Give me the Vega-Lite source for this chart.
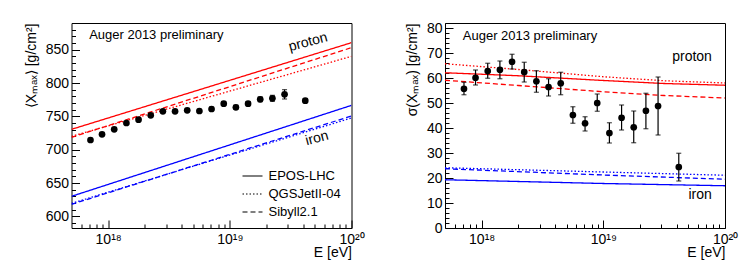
{
  "$schema": "https://vega.github.io/schema/vega-lite/v6.json",
  "padding": {"left": 23.5, "top": 20, "right": 5, "bottom": 5},
  "background": "white",
  "config": {
    "font": "Liberation Sans",
    "view": {"stroke": "black", "strokeWidth": 1},
    "axis": {
      "grid": false,
      "domain": false,
      "tickColor": "black",
      "tickWidth": 1,
      "labelColor": "black",
      "titleColor": "black",
      "labelFontSize": 14,
      "titleFontSize": 14,
      "titleFontWeight": "normal",
      "labelOverlap": false,
      "labelFlush": false
    }
  },
  "datasets": {
    "xmax": [
      {"E": 7.16e17, "v": 714.5, "lo": 712.5, "hi": 716.5},
      {"E": 8.91e17, "v": 723, "lo": 721, "hi": 725},
      {"E": 1.122e18, "v": 730.5, "lo": 728.5, "hi": 732.5},
      {"E": 1.413e18, "v": 740, "lo": 738, "hi": 742},
      {"E": 1.778e18, "v": 745, "lo": 743, "hi": 747},
      {"E": 2.239e18, "v": 751.5, "lo": 749.5, "hi": 753.5},
      {"E": 2.818e18, "v": 757.5, "lo": 755.5, "hi": 759.5},
      {"E": 3.548e18, "v": 757.5, "lo": 755.5, "hi": 759.5},
      {"E": 4.467e18, "v": 759, "lo": 757, "hi": 761},
      {"E": 5.623e18, "v": 758, "lo": 756, "hi": 760},
      {"E": 7.079e18, "v": 761, "lo": 758.5, "hi": 763.5},
      {"E": 8.913e18, "v": 769, "lo": 766.5, "hi": 771.5},
      {"E": 1.122e19, "v": 763.5, "lo": 760.5, "hi": 766.5},
      {"E": 1.413e19, "v": 769, "lo": 766, "hi": 772},
      {"E": 1.778e19, "v": 775.5, "lo": 772, "hi": 779},
      {"E": 2.239e19, "v": 777, "lo": 772.5, "hi": 781.5},
      {"E": 2.818e19, "v": 783, "lo": 776, "hi": 790},
      {"E": 4.17e19, "v": 773.5, "lo": 770.5, "hi": 776.5}
    ],
    "sigma": [
      {"E": 7.16e17, "v": 55.7, "lo": 53.3, "hi": 58.3},
      {"E": 8.91e17, "v": 60.1, "lo": 57.2, "hi": 63.2},
      {"E": 1.122e18, "v": 62.8, "lo": 59.9, "hi": 65.9},
      {"E": 1.413e18, "v": 63.3, "lo": 59.7, "hi": 66.8},
      {"E": 1.778e18, "v": 66.5, "lo": 63.6, "hi": 69.5},
      {"E": 2.239e18, "v": 62.4, "lo": 58.4, "hi": 66.3},
      {"E": 2.818e18, "v": 58.7, "lo": 54.3, "hi": 62.9},
      {"E": 3.548e18, "v": 56.4, "lo": 52.8, "hi": 59.7},
      {"E": 4.467e18, "v": 57.9, "lo": 53.3, "hi": 62.3},
      {"E": 5.623e18, "v": 45.2, "lo": 41.9, "hi": 48.5},
      {"E": 7.079e18, "v": 41.9, "lo": 38.8, "hi": 44.5},
      {"E": 8.913e18, "v": 50.0, "lo": 46.7, "hi": 53.6},
      {"E": 1.122e19, "v": 38.0, "lo": 34.0, "hi": 42.1},
      {"E": 1.413e19, "v": 44.1, "lo": 39.2, "hi": 49.2},
      {"E": 1.778e19, "v": 40.3, "lo": 34.1, "hi": 46.8},
      {"E": 2.239e19, "v": 46.9, "lo": 39.7, "hi": 53.9},
      {"E": 2.818e19, "v": 48.8, "lo": 37.2, "hi": 60.4},
      {"E": 4.17e19, "v": 24.4, "lo": 18.8, "hi": 29.9}
    ],
    "models": [
      {"panel": "mean", "comp": "proton", "model": "EPOS-LHC", "E": 5e17, "v": 730.5},
      {"panel": "mean", "comp": "proton", "model": "EPOS-LHC", "E": 1e20, "v": 860.5},
      {"panel": "mean", "comp": "proton", "model": "QGSJetII-04", "E": 5e17, "v": 720},
      {"panel": "mean", "comp": "proton", "model": "QGSJetII-04", "E": 1e20, "v": 840},
      {"panel": "mean", "comp": "proton", "model": "Sibyll2.1", "E": 5e17, "v": 718.5},
      {"panel": "mean", "comp": "proton", "model": "Sibyll2.1", "E": 1e20, "v": 853},
      {"panel": "mean", "comp": "iron", "model": "EPOS-LHC", "E": 5e17, "v": 630},
      {"panel": "mean", "comp": "iron", "model": "EPOS-LHC", "E": 1e20, "v": 766.5},
      {"panel": "mean", "comp": "iron", "model": "QGSJetII-04", "E": 5e17, "v": 619.5},
      {"panel": "mean", "comp": "iron", "model": "QGSJetII-04", "E": 1e20, "v": 747.5},
      {"panel": "mean", "comp": "iron", "model": "Sibyll2.1", "E": 5e17, "v": 618},
      {"panel": "mean", "comp": "iron", "model": "Sibyll2.1", "E": 1e20, "v": 750.5},
      {"panel": "sigma", "comp": "proton", "model": "EPOS-LHC", "E": 5e17, "v": 62.1},
      {"panel": "sigma", "comp": "proton", "model": "EPOS-LHC", "E": 2e18, "v": 60.9},
      {"panel": "sigma", "comp": "proton", "model": "EPOS-LHC", "E": 1e19, "v": 59.0},
      {"panel": "sigma", "comp": "proton", "model": "EPOS-LHC", "E": 3.16e19, "v": 57.8},
      {"panel": "sigma", "comp": "proton", "model": "EPOS-LHC", "E": 1e20, "v": 57.1},
      {"panel": "sigma", "comp": "proton", "model": "QGSJetII-04", "E": 5e17, "v": 65.7},
      {"panel": "sigma", "comp": "proton", "model": "QGSJetII-04", "E": 2e18, "v": 63.4},
      {"panel": "sigma", "comp": "proton", "model": "QGSJetII-04", "E": 1e19, "v": 60.5},
      {"panel": "sigma", "comp": "proton", "model": "QGSJetII-04", "E": 3.16e19, "v": 58.9},
      {"panel": "sigma", "comp": "proton", "model": "QGSJetII-04", "E": 1e20, "v": 58.0},
      {"panel": "sigma", "comp": "proton", "model": "Sibyll2.1", "E": 5e17, "v": 59.1},
      {"panel": "sigma", "comp": "proton", "model": "Sibyll2.1", "E": 2e18, "v": 57.0},
      {"panel": "sigma", "comp": "proton", "model": "Sibyll2.1", "E": 1e19, "v": 54.5},
      {"panel": "sigma", "comp": "proton", "model": "Sibyll2.1", "E": 3.16e19, "v": 53.0},
      {"panel": "sigma", "comp": "proton", "model": "Sibyll2.1", "E": 1e20, "v": 52.0},
      {"panel": "sigma", "comp": "iron", "model": "EPOS-LHC", "E": 5e17, "v": 19.3},
      {"panel": "sigma", "comp": "iron", "model": "EPOS-LHC", "E": 1e19, "v": 17.8},
      {"panel": "sigma", "comp": "iron", "model": "EPOS-LHC", "E": 1e20, "v": 16.9},
      {"panel": "sigma", "comp": "iron", "model": "QGSJetII-04", "E": 5e17, "v": 24.1},
      {"panel": "sigma", "comp": "iron", "model": "QGSJetII-04", "E": 1e19, "v": 22.4},
      {"panel": "sigma", "comp": "iron", "model": "QGSJetII-04", "E": 1e20, "v": 21.1},
      {"panel": "sigma", "comp": "iron", "model": "Sibyll2.1", "E": 5e17, "v": 23.7},
      {"panel": "sigma", "comp": "iron", "model": "Sibyll2.1", "E": 1e19, "v": 21.2},
      {"panel": "sigma", "comp": "iron", "model": "Sibyll2.1", "E": 1e20, "v": 19.5}
    ],
    "labels": [
      {"panel": "mean", "kind": "title", "E": 6.98e17, "v": 872, "text": "Auger 2013 preliminary"},
      {"panel": "mean", "kind": "comp", "E": 4.4e19, "v": 861, "text": "proton"},
      {"panel": "mean", "kind": "comp", "E": 5.2e19, "v": 717, "text": "iron"},
      {"panel": "sigma", "kind": "title", "E": 7.0e17, "v": 76.9, "text": "Auger 2013 preliminary"},
      {"panel": "sigma", "kind": "comp", "E": 5.36e19, "v": 68.4, "text": "proton"},
      {"panel": "sigma", "kind": "comp", "E": 6.24e19, "v": 13.1, "text": "iron"}
    ]
  },
  "bounds": "flush",
  "spacing": 93.5,
  "resolve": {
    "scale": {"x": "independent", "y": "independent", "color": "independent", "strokeDash": "independent"},
    "legend": {"strokeDash": "independent", "color": "independent"}
  },
  "hconcat": [
    {
      "width": 280,
      "height": 205,
      "resolve": {"axis": {"x": "independent", "y": "independent"}},
      "layer": [
        {
          "data": {"name": "models"},
          "transform": [{"filter": "datum.panel == 'mean'"}],
          "mark": {"type": "line", "strokeWidth": 1.3, "clip": true},
          "encoding": {
            "x": {
              "field": "E", "type": "quantitative",
              "scale": {"type": "log", "domain": [5e17, 1e20], "nice": false},
              "axis": {
                "orient": "bottom", "offset": -8, "tickSize": 8,
                "title": "E [eV]", "titleAnchor": "end", "titlePadding": -1,
                "values": [1e18, 1e19, 1e20],
                "labelExpr": "datum.value == 1e18 ? '10¹⁸' : datum.value == 1e19 ? '10¹⁹' : '10²⁰'",
                "labelPadding": 4, "labelFontSize": 14, "labelOverlap": false
              }
            },
            "y": {
              "field": "v", "type": "quantitative",
              "scale": {"domain": [582.5, 890], "nice": false, "zero": false},
              "axis": {
                "orient": "left", "offset": -8, "tickSize": 8,
                "title": "⟨Xₘₐₓ⟩ [g/cm²]", "titleAnchor": "end", "titlePadding": 7,
                "values": [600, 650, 700, 750, 800, 850],
                "labelPadding": 3, "labelFontSize": 14, "labelOverlap": false
              }
            },
            "color": {
              "field": "comp", "type": "nominal",
              "scale": {"domain": ["proton", "iron"], "range": ["#ff0000", "#0000ff"]},
              "legend": null
            },
            "strokeDash": {
              "field": "model", "type": "nominal",
              "scale": {"domain": ["EPOS-LHC", "QGSJetII-04", "Sibyll2.1"], "range": [[1, 0], [1.5, 2], [5, 3]]},
              "legend": {
                "title": null, "orient": "none", "legendX": 170, "legendY": 142,
                "symbolType": "stroke", "symbolStrokeColor": "black", "symbolSize": 400, "symbolStrokeWidth": 1.2,
                "labelFontSize": 13, "labelColor": "black", "rowPadding": 0, "labelOffset": 5
              }
            }
          }
        },
        {
          "data": {"name": "xmax"},
          "mark": {"type": "errorbar", "ticks": {"size": 5}, "color": "black", "thickness": 1.2},
          "encoding": {
            "x": {"field": "E", "type": "quantitative", "axis": null},
            "y": {"field": "lo", "type": "quantitative", "axis": null},
            "y2": {"field": "hi"}
          }
        },
        {
          "data": {"name": "xmax"},
          "mark": {"type": "circle", "size": 45, "color": "black", "opacity": 1},
          "encoding": {
            "x": {
              "field": "E", "type": "quantitative",
              "axis": {
                "orient": "bottom", "offset": -4, "tickSize": 4, "labels": false, "title": null,
                "values": [6e17, 7e17, 8e17, 9e17, 2e18, 3e18, 4e18, 5e18, 6e18, 7e18, 8e18, 9e18, 2e19, 3e19, 4e19, 5e19, 6e19, 7e19, 8e19, 9e19]
              }
            },
            "y": {
              "field": "v", "type": "quantitative",
              "axis": {
                "orient": "left", "offset": -4, "tickSize": 4, "labels": false, "title": null,
                "values": [590, 610, 620, 630, 640, 660, 670, 680, 690, 710, 720, 730, 740, 760, 770, 780, 790, 810, 820, 830, 840, 860, 870, 880, 890]
              }
            }
          }
        },
        {
          "data": {"name": "labels"},
          "transform": [{"filter": "datum.panel == 'mean' && datum.kind == 'title'"}],
          "mark": {"type": "text", "align": "left", "baseline": "middle", "fontSize": 13, "color": "black"},
          "encoding": {
            "x": {"field": "E", "type": "quantitative", "axis": null},
            "y": {"field": "v", "type": "quantitative", "axis": null},
            "text": {"field": "text"}
          }
        },
        {
          "data": {"name": "labels"},
          "transform": [{"filter": "datum.panel == 'mean' && datum.kind == 'comp'"}],
          "mark": {"type": "text", "align": "center", "baseline": "middle", "fontSize": 14, "color": "black", "angle": -15},
          "encoding": {
            "x": {"field": "E", "type": "quantitative", "axis": null},
            "y": {"field": "v", "type": "quantitative", "axis": null},
            "text": {"field": "text"}
          }
        }
      ]
    },
    {
      "width": 280,
      "height": 205,
      "resolve": {"axis": {"x": "independent", "y": "independent"}},
      "layer": [
        {
          "data": {"name": "models"},
          "transform": [{"filter": "datum.panel == 'sigma'"}],
          "mark": {"type": "line", "strokeWidth": 1.3, "clip": true},
          "encoding": {
            "x": {
              "field": "E", "type": "quantitative",
              "scale": {"type": "log", "domain": [5e17, 1e20], "nice": false},
              "axis": {
                "orient": "bottom", "offset": -8, "tickSize": 8,
                "title": "E [eV]", "titleAnchor": "end", "titlePadding": -1,
                "values": [1e18, 1e19, 1e20],
                "labelExpr": "datum.value == 1e18 ? '10¹⁸' : datum.value == 1e19 ? '10¹⁹' : '10²⁰'",
                "labelPadding": 4, "labelFontSize": 14, "labelOverlap": false
              }
            },
            "y": {
              "field": "v", "type": "quantitative",
              "scale": {"domain": [0, 82], "nice": false},
              "axis": {
                "orient": "left", "offset": -8, "tickSize": 8,
                "title": "σ(Xₘₐₓ) [g/cm²]", "titleAnchor": "end", "titlePadding": 7,
                "values": [0, 10, 20, 30, 40, 50, 60, 70, 80],
                "labelPadding": 3, "labelFontSize": 14, "labelOverlap": false
              }
            },
            "color": {
              "field": "comp", "type": "nominal",
              "scale": {"domain": ["proton", "iron"], "range": ["#ff0000", "#0000ff"]},
              "legend": null
            },
            "strokeDash": {
              "field": "model", "type": "nominal",
              "scale": {"domain": ["EPOS-LHC", "QGSJetII-04", "Sibyll2.1"], "range": [[1, 0], [1.5, 2], [5, 3]]},
              "legend": null
            }
          }
        },
        {
          "data": {"name": "sigma"},
          "mark": {"type": "errorbar", "ticks": {"size": 5}, "color": "black", "thickness": 1.2},
          "encoding": {
            "x": {"field": "E", "type": "quantitative", "axis": null},
            "y": {"field": "lo", "type": "quantitative", "axis": null},
            "y2": {"field": "hi"}
          }
        },
        {
          "data": {"name": "sigma"},
          "mark": {"type": "circle", "size": 45, "color": "black", "opacity": 1},
          "encoding": {
            "x": {
              "field": "E", "type": "quantitative",
              "axis": {
                "orient": "bottom", "offset": -4, "tickSize": 4, "labels": false, "title": null,
                "values": [6e17, 7e17, 8e17, 9e17, 2e18, 3e18, 4e18, 5e18, 6e18, 7e18, 8e18, 9e18, 2e19, 3e19, 4e19, 5e19, 6e19, 7e19, 8e19, 9e19]
              }
            },
            "y": {
              "field": "v", "type": "quantitative",
              "axis": {
                "orient": "left", "offset": -4, "tickSize": 4, "labels": false, "title": null,
                "values": [2, 4, 6, 8, 12, 14, 16, 18, 22, 24, 26, 28, 32, 34, 36, 38, 42, 44, 46, 48, 52, 54, 56, 58, 62, 64, 66, 68, 72, 74, 76, 78, 82]
              }
            }
          }
        },
        {
          "data": {"name": "labels"},
          "transform": [{"filter": "datum.panel == 'sigma' && datum.kind == 'title'"}],
          "mark": {"type": "text", "align": "left", "baseline": "middle", "fontSize": 13, "color": "black"},
          "encoding": {
            "x": {"field": "E", "type": "quantitative", "axis": null},
            "y": {"field": "v", "type": "quantitative", "axis": null},
            "text": {"field": "text"}
          }
        },
        {
          "data": {"name": "labels"},
          "transform": [{"filter": "datum.panel == 'sigma' && datum.kind == 'comp'"}],
          "mark": {"type": "text", "align": "center", "baseline": "middle", "fontSize": 14, "color": "black"},
          "encoding": {
            "x": {"field": "E", "type": "quantitative", "axis": null},
            "y": {"field": "v", "type": "quantitative", "axis": null},
            "text": {"field": "text"}
          }
        }
      ]
    }
  ]
}
